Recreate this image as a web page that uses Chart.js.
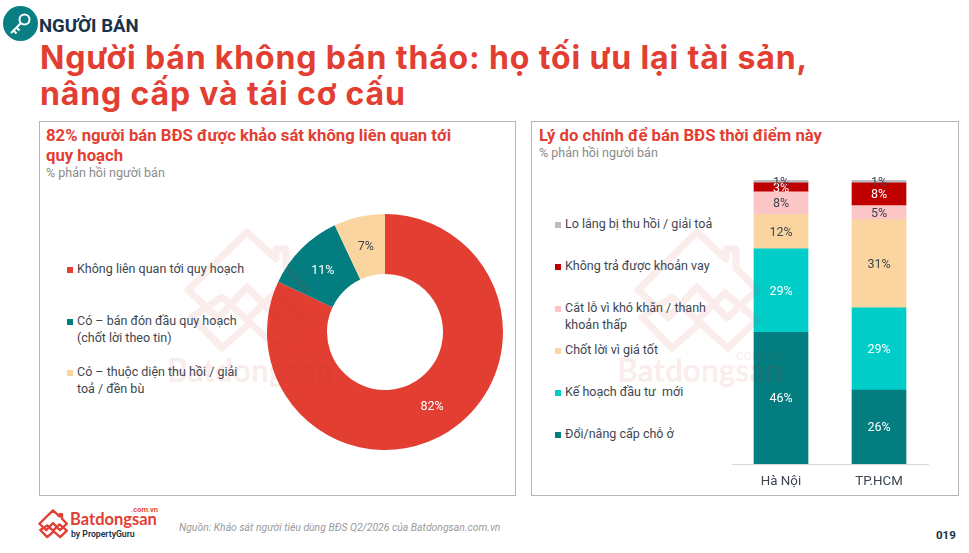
<!DOCTYPE html>
<html lang="vi"><head><meta charset="utf-8">
<script src="https://cdn.jsdelivr.net/npm/chart.js@4"></script>
<style>
html,body{margin:0;padding:0;background:#fff;width:969px;height:553px;overflow:hidden;font-family:Roboto,sans-serif}
.a{position:absolute;white-space:nowrap}
.panel{position:absolute;border:1px solid #b5b5b5;box-sizing:border-box;background:transparent}
.h{color:#e23e32;font-weight:700;font-size:16.7px;line-height:20px}
.sub{color:#8a8a8a;font-size:12.5px}
.leg{color:#3d4650;font-size:12.5px;line-height:16.5px}
.sw{position:absolute;width:6px;height:6px}
canvas{position:absolute}
</style></head><body>
<svg class="a" style="left:3px;top:5px" width="36" height="38" viewBox="0 0 36 38">
<circle cx="17.500" cy="18.500" r="17.500" fill="#0a7f83"/>
<g fill="none" stroke="#fff" stroke-width="2"><circle cx="21.500" cy="14.500" r="5"/><path d="M18 18 L8 28 M10.500 25.500 l3 3 M13.500 22.500 l3 3"/></g></svg>
<div class="a" style="left:39px;top:14px;font:700 18.600px/24px Roboto;color:#17324a">NGƯỜI BÁN</div>
<div class="a" id="t1" style="left:40px;top:38px;font:700 32px/39px Inter;letter-spacing:.85px;color:#e23e32">Người bán không bán tháo: họ tối ưu lại tài sản,</div>
<div class="a" id="t2" style="left:40px;top:74px;font:700 32px/39px Inter;letter-spacing:.85px;color:#e23e32">nâng cấp và tái cơ cấu</div>

<div class="panel" style="left:39px;top:121px;width:477px;height:375px"></div>
<div class="panel" style="left:531px;top:121px;width:428px;height:375px"></div>

<div class="a h" style="left:46px;top:126px">82% người bán BĐS được khảo sát không liên quan tới</div>
<div class="a h" style="left:46px;top:146px">quy hoạch</div>
<div class="a sub" style="left:46px;top:165px">% phản hồi người bán</div>
<div class="a h" style="left:539px;top:126px">Lý do chính để bán BĐS thời điểm này</div>
<div class="a sub" style="left:539px;top:145px">% phản hồi người bán</div>

<div id="legendL"></div><div id="legendR"></div>

<canvas id="donut" style="left:265px;top:212px;width:240px;height:240px"></canvas>
<canvas id="bars" style="left:722px;top:171px;width:216px;height:329px"></canvas>

<svg class="a" id="wm1" style="left:160px;top:215px;opacity:.09;pointer-events:none" width="180" height="175" viewBox="0 0 180 175"></svg>
<svg class="a" id="wm2" style="left:610px;top:215px;opacity:.09;pointer-events:none" width="180" height="175" viewBox="0 0 180 175"></svg>

<svg class="a" style="left:38px;top:508px" width="30" height="31" viewBox="22 10 130 128">
<g fill="none" stroke="#e23e32" stroke-width="10" stroke-linejoin="round"><path d="M28 75 L87 17 L116 44 L116 34 L126 34 L126 53 L147 75 L117 103 L87 72 L58 103 Z"/><path d="M32 102 L62 82 L87 105 L115 78 L147 105 L118 133 L90 108 L62 133 Z"/></g></svg>
<div class="a" style="left:70px;top:509px;font:700 16.500px/20px Lato;color:#e23e32">Batdongsan</div>
<div class="a" style="left:115px;top:505px;width:43px;text-align:right;font:600 7.500px/9px Roboto;color:#e23e32">.com.vn</div>
<div class="a" style="left:71px;top:529px;font:600 8.700px/11px Roboto;color:#17324a">by PropertyGuru</div>
<div class="a" style="left:179px;top:522px;font:italic 400 10.400px/12px Roboto;color:#9a9a9a">Nguồn: Khảo sát người tiêu dùng BĐS Q2/2026 của Batdongsan.com.vn</div>
<div class="a" style="left:936px;top:529px;font:700 11.500px/13px Roboto;color:#17324a">019</div>

<script>
const donutLabels = ["Không liên quan tới quy hoạch", "Có – bán đón đầu quy hoạch\n(chốt lời theo tin)", "Có – thuộc diện thu hồi / giải\ntoả / đền bù"];
const donutValues = [82, 11, 7];
const donutColors = ["#e23e32", "#047d80", "#fbd5a0"];
const donutText = ["#ffffff", "#ffffff", "#3d4650"];

const cities = ["Hà Nội", "TP.HCM"];
const reasons = ["Đổi/nâng cấp chỗ ở", "Kế hoạch đầu tư  mới", "Chốt lời vì giá tốt", "Cắt lỗ vì khó khăn / thanh\nkhoản thấp", "Không trả được khoản vay", "Lo lắng bị thu hồi / giải toả"];
const upgrade = [46.4, 26];
const invest = [29.4, 29];
const profit = [12, 31];
const loss = [8, 5];
const debt = [3.2, 8];
const worry = [1, 1];
const reasonColors = ["#047d80", "#00cdc8", "#fbd5a0", "#fcc6c6", "#c00000", "#bdbdbd"];
const reasonText = ["#ffffff", "#ffffff", "#3d4650", "#3d4650", "#ffffff", "#3d4650"];

const donutLegendY = [261, 313, 364];
const reasonLegendY = [216, 258, 300, 342, 384, 426];

function addLegend(id, labels, colors, ys, x) {
  const host = document.getElementById(id);
  labels.forEach((t, i) => {
    const s = document.createElement('div'); s.className = 'sw';
    s.style.cssText = `left:${x}px;top:${ys[i] + 6}px;background:${colors[i]}`;
    const d = document.createElement('div'); d.className = 'a leg';
    d.style.cssText = `left:${x + 10}px;top:${ys[i]}px;white-space:pre`;
    d.textContent = t;
    host.append(s, d);
  });
}
addLegend('legendL', donutLabels, donutColors, donutLegendY, 67);
addLegend('legendR', reasons.slice().reverse(), reasonColors.slice().reverse(), reasonLegendY, 555);

const markLabels = {
  id: 'markLabels',
  afterDatasetsDraw(chart) {
    const { ctx } = chart;
    ctx.save();
    ctx.font = '12.5px Roboto'; ctx.textAlign = 'center'; ctx.textBaseline = 'middle';
    chart.data.datasets.forEach((ds, i) => {
      chart.getDatasetMeta(i).data.forEach((el, j) => {
        const p = el.getCenterPoint();
        ctx.fillStyle = ds.labelColors ? ds.labelColors[j] : ds.labelColor;
        ctx.fillText(Math.round(ds.data[j]) + '%', p.x, p.y + 1);
      });
    });
    ctx.restore();
  }
};

Chart.defaults.font.family = 'Roboto';
new Chart(document.getElementById('donut'), {
  type: 'doughnut',
  data: { labels: donutLabels.map(s => s.replace('\n', ' ')), datasets: [{ data: donutValues, backgroundColor: donutColors, labelColors: donutText, borderWidth: 0 }] },
  options: { responsive: false, animation: false, radius: 118, cutout: 59, layout: { padding: 0 }, plugins: { legend: { display: false }, tooltip: { enabled: false } } },
  plugins: [markLabels]
});

const series = [upgrade, invest, profit, loss, debt, worry];
new Chart(document.getElementById('bars'), {
  type: 'bar',
  data: { labels: cities, datasets: series.map((d, i) => ({ label: reasons[i].replace('\n', ' '), data: d, backgroundColor: reasonColors[i], labelColor: reasonText[i], barThickness: 54 })) },
  options: {
    responsive: false, animation: false,
    layout: { padding: { top: 9, left: 10, right: 10, bottom: 0 } },
    scales: {
      x: { stacked: true, grid: { display: false, drawTicks: false }, border: { color: '#d8d8d8' }, ticks: { color: '#3d4650', font: { size: 13.3 }, padding: 10 } },
      y: { stacked: true, display: false, min: 0, max: 100 }
    },
    plugins: { legend: { display: false }, tooltip: { enabled: false } }
  },
  plugins: [markLabels]
});

// watermark house marks
const wmShape = '<g fill="none" stroke="#c0392b" stroke-width="7" stroke-linejoin="round"><path d="M28 75 L87 17 L116 44 L116 34 L126 34 L126 53 L147 75 L117 103 L87 72 L58 103 Z"/><path d="M32 102 L62 82 L87 105 L115 78 L147 105 L118 133 L90 108 L62 133 Z"/></g><text x="7" y="167" font-family="Lato" font-weight="700" font-size="31.500" fill="#c0392b">Batdongsan</text><text x="122" y="145" font-family="Roboto" font-size="14.500" fill="#c0392b">.com.vn</text>';
document.getElementById('wm1').innerHTML = wmShape;
document.getElementById('wm2').innerHTML = wmShape;
</script>
</body></html>
